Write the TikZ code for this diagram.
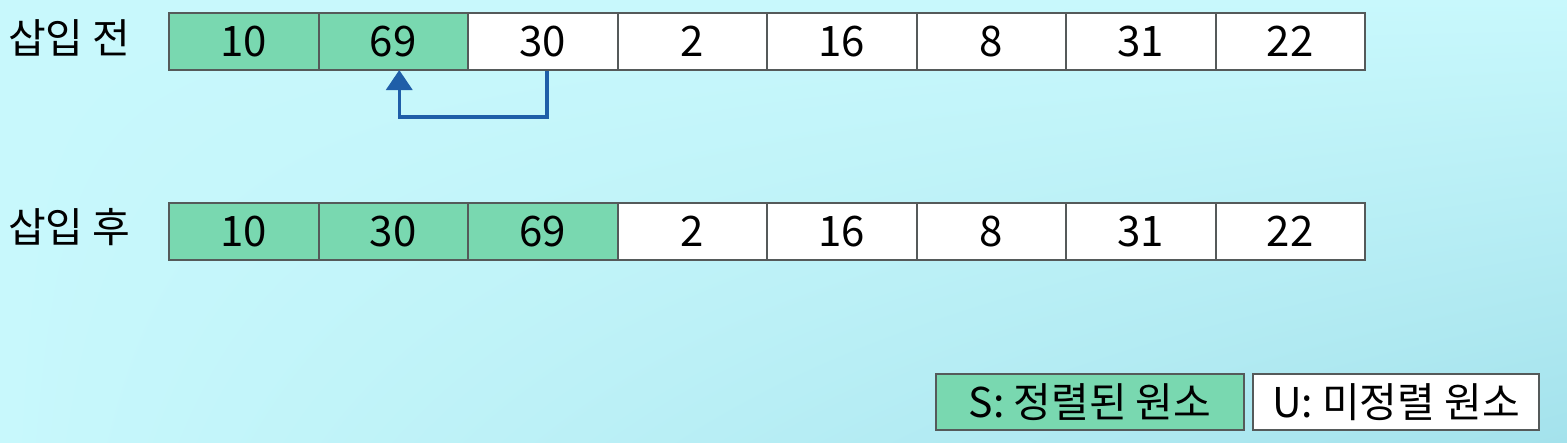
\documentclass[tikz,border=0pt]{standalone}
\usepackage{fontspec}
\setmainfont{Noto Sans CJK KR}
\usetikzlibrary{arrows.meta,shadings}
\definecolor{bgcyan}{HTML}{C8F8FC}
\definecolor{bgdeep}{HTML}{A4E2EC}
\definecolor{sortgreen}{HTML}{79D8B0}
\definecolor{cellborder}{HTML}{555A5A}
\definecolor{arrowblue}{HTML}{1F5EA8}
\tikzset{
  cellbox/.style={draw=cellborder, line width=2pt, minimum width=149.5pt, minimum height=57pt, inner sep=0pt, anchor=north west, font=\fontsize{42}{48}\selectfont},
  sorted/.style={cellbox, fill=sortgreen},
  unsorted/.style={cellbox, fill=white},
  rowlabel/.style={anchor=west, inner sep=0pt, font=\fontsize{41}{48}\selectfont},
  legendbox/.style={draw=cellborder, line width=2pt, minimum height=56pt, inner sep=0pt, anchor=north west, font=\fontsize{41}{48}\selectfont},
  moveline/.style={draw=arrowblue, line width=3.5pt, -{Triangle[length=20pt,width=26pt]}}
}
\begin{document}
\begin{tikzpicture}[x=1pt,y=-1pt]
\useasboundingbox (0,0) rectangle (1567,442);
\shade[upper left=bgcyan, upper right=bgcyan, lower left=bgcyan, lower right=bgdeep] (0,0) rectangle (1567,442);
% top row
\node[rowlabel] (lbltop) at (8,38) {삽입 전};
\node[sorted]   (t1) at (168,12) {10};
\node[sorted]   (t2) at (317.5,12) {69};
\node[unsorted] (t3) at (467,12) {30};
\node[unsorted] (t4) at (616.5,12) {2};
\node[unsorted] (t5) at (766,12) {16};
\node[unsorted] (t6) at (915.5,12) {8};
\node[unsorted] (t7) at (1065,12) {31};
\node[unsorted] (t8) at (1214.5,12) {22};
% bottom row
\node[rowlabel] (lblbot) at (8,227) {삽입 후};
\node[sorted]   (b1) at (168,202) {10};
\node[sorted]   (b2) at (317.5,202) {30};
\node[sorted]   (b3) at (467,202) {69};
\node[unsorted] (b4) at (616.5,202) {2};
\node[unsorted] (b5) at (766,202) {16};
\node[unsorted] (b6) at (915.5,202) {8};
\node[unsorted] (b7) at (1065,202) {31};
\node[unsorted] (b8) at (1214.5,202) {22};
% arrow
\coordinate (turnA) at ([yshift=-46pt]t3.south);
\draw[moveline] ([xshift=4pt]t3.south) |- (turnA) -| ([xshift=6pt,yshift=1pt]t2.south);
% legend
\node[legendbox, fill=sortgreen, minimum width=308pt] (legS) at (935,373) {S: 정렬된 원소};
\node[legendbox, fill=white, minimum width=286pt] (legU) at (1252,373) {U: 미정렬 원소};
\end{tikzpicture}
\end{document}
